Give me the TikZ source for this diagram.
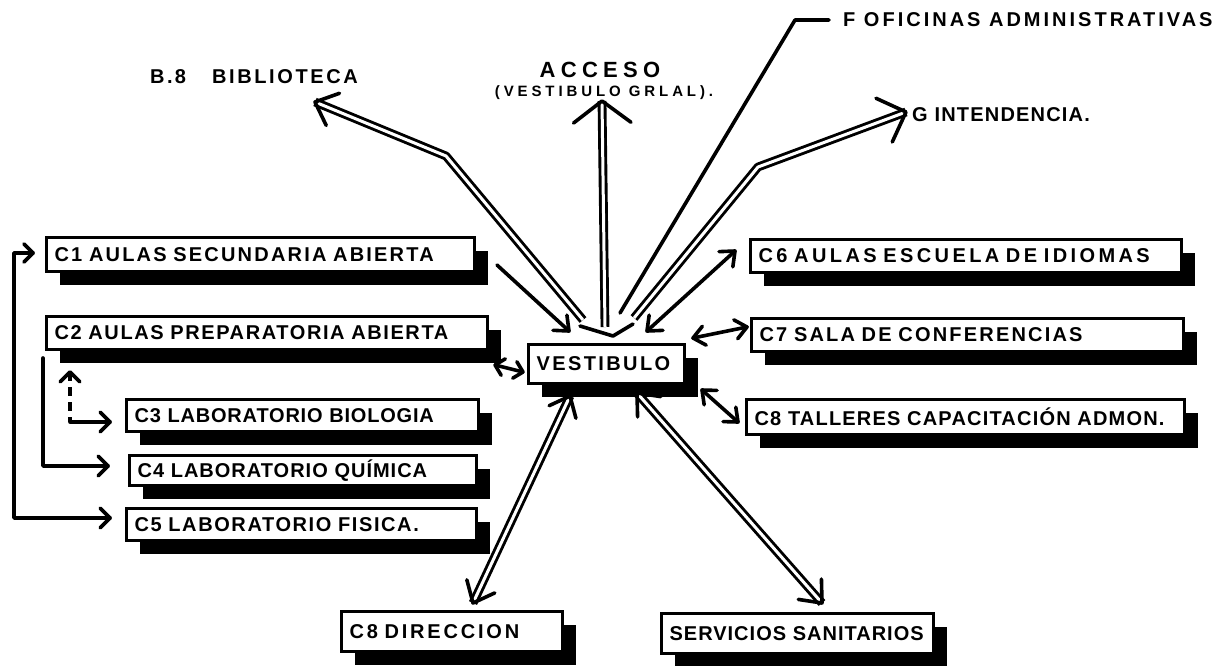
\documentclass[tikz,border=0pt]{standalone}
\usepackage{fontspec}
\setmainfont{Liberation Sans}
\usetikzlibrary{arrows.meta,shadows,calc}
\newcommand\lbl{\fontsize{20}{22}\selectfont\bfseries}
\newcommand\tx[2]{{\addfontfeature{LetterSpace=#1}#2}}
\newcommand\chev[4]{\draw[sl] ($(#1)!#3pt!#4:(#2)$) -- (#1) -- ($(#1)!#3pt!-#4:(#2)$);}
\begin{document}
\begin{tikzpicture}[x=1pt,y=-1pt,
 box/.style={draw=black, line width=3.2pt, fill=white, inner xsep=8pt, inner ysep=0pt,
   align=left, anchor=north west, font=\lbl,
   drop shadow={shadow xshift=13pt, shadow yshift=-13pt, fill=black, opacity=1}},
 lab/.style={font=\lbl, inner sep=0pt},
 sl/.style={line width=3.6pt, line cap=round, line join=round},
 dl/.style={line width=2.9pt, double=white, double distance=3pt, line join=round},
 dsh/.style={sl, line cap=butt, dash pattern=on 9pt off 6pt}
]
\fill[white] (0,0) rectangle (1220,665);
\useasboundingbox (0,0) rectangle (1220,665);

% ---------- boxes ----------
\node[box, text width=412, minimum height=34] (c1) at (45,236) {\tx{11}{C1 AULAS SECUNDARIA ABIERTA}};
\node[box, text width=425, minimum height=33] (c2) at (45,315) {\tx{8}{C2 AULAS PREPARATORIA ABIERTA}};
\node[box, text width=336, minimum height=32] (c3) at (125,398) {\tx{4}{C3 LABORATORIO BIOLOGIA}};
\node[box, text width=331, minimum height=30] (c4) at (128,454) {\tx{5}{C4 LABORATORIO QUÍMICA}};
\node[box, text width=334, minimum height=32] (c5) at (125,507) {\tx{8}{C5 LABORATORIO FISICA.}};
\node[box, text width=140, minimum height=39] (vest) at (527,343) {\tx{12}{VESTIBULO}};
\node[box, text width=415, minimum height=33] (c6) at (749,238) {\tx{17}{C6 AULAS ESCUELA DE IDIOMAS}};
\node[box, text width=416, minimum height=33] (c7) at (750,317) {\tx{11}{C7 SALA DE CONFERENCIAS}};
\node[box, text width=422, minimum height=35] (c8) at (745,398) {\tx{6}{C8 TALLERES CAPACITACIÓN ADMON.}};
\node[box, text width=205, minimum height=40] (dir) at (340,610) {\tx{14}{C8 DIRECCION}};
\node[box, text width=256, minimum height=40] (ser) at (660,612) {\tx{5}{SERVICIOS SANITARIOS}};

% ---------- top labels ----------
\node[lab, anchor=west] (bib) at (150,77) {\tx{12}{B.8}\hspace{26pt}\tx{13}{BIBLIOTECA}};
\node[lab, font=\fontsize{22}{24}\selectfont\bfseries\addfontfeature{LetterSpace=24}] (acc) at (600,70) {ACCESO};
\node[lab, font=\fontsize{15}{17}\selectfont\bfseries\addfontfeature{LetterSpace=26}] (accs) at (604,93) {(VESTIBULO GRLAL).};
\node[lab, anchor=west] (ofi) at (843,20) {\tx{15}{F OFICINAS ADMINISTRATIVAS}};
\node[lab, anchor=west] (int) at (912,115) {\tx{6}{G INTENDENCIA.}};

% ---------- coordinates ----------
\coordinate (bibS) at (583,320); \coordinate (bibK) at (446,156); \coordinate (bibT) at (315,102);
\coordinate (accS) at (605,327); \coordinate (accT) at (602,101);
\coordinate (gS) at (634,318);   \coordinate (gK) at (758,167);   \coordinate (gT) at (906,112);
\coordinate (fS) at (620,313);   \coordinate (fK) at (795,20);    \coordinate (fE) at (829,20);
\coordinate (v1) at (580,326);   \coordinate (v2) at (613,336);   \coordinate (v3) at (633,324);
\coordinate (c1a) at (497,265);  \coordinate (c1b) at (569,331);
\coordinate (c6a) at (647,331);  \coordinate (c6b) at (735,251);
\coordinate (c7a) at (693,338);  \coordinate (c7b) at (747,327);
\coordinate (c8a) at (702,390);  \coordinate (c8b) at (738,422);
\coordinate (c2a) at (495,365);  \coordinate (c2b) at (523,372);
\coordinate (dirA) at (570,396); \coordinate (dirB) at (473,603);
\coordinate (serA) at (637,393); \coordinate (serB) at (822,603);
\coordinate (L1) at (33,253);    \coordinate (L1k) at (14,253);
\coordinate (L5k) at (14,518);   \coordinate (L5) at (110,518);
\coordinate (L2s) at (43,358);   \coordinate (L4k) at (43,466);   \coordinate (L4) at (108,466);
\coordinate (L3u) at (70,372);   \coordinate (L3k) at (70,422);   \coordinate (L3) at (110,422);

% ---------- double-line arrows ----------
\draw[dl] (bibS) -- (bibK) -- (bibT);
\chev{bibT}{bibK}{26}{42}
\draw[dl] (accS) -- (accT);
\chev{accT}{accS}{36}{53}
\draw[dl] (gS) -- (gK) -- (gT);
\chev{gT}{gK}{33}{45}
\draw[dl] (dirA) -- (dirB);
\chev{dirA}{dirB}{23}{40}
\chev{dirB}{dirA}{24}{40}
\draw[dl] (serA) -- (serB);
\chev{serA}{serB}{24}{40}
\chev{serB}{serA}{24}{40}

% ---------- single lines ----------
\draw[sl] (fS) -- (fK) -- (fE);
\draw[sl] (v1) -- (v2) -- (v3);
\draw[sl] (c1a) -- (c1b); \chev{c1b}{c1a}{16}{40}
\draw[sl] (c6a) -- (c6b); \chev{c6a}{c6b}{16}{40} \chev{c6b}{c6a}{16}{40}
\draw[sl] (c7a) -- (c7b); \chev{c7a}{c7b}{15}{40} \chev{c7b}{c7a}{15}{40}
\draw[sl] (c8a) -- (c8b); \chev{c8a}{c8b}{15}{40} \chev{c8b}{c8a}{15}{40}
\draw[sl] (c2a) -- (c2b); \chev{c2a}{c2b}{12}{45} \chev{c2b}{c2a}{12}{45}

% ---------- left connectors ----------
\draw[sl] (L1) -- (L1k) -- (L5k) -- (L5);
\chev{L1}{L1k}{13}{45} \chev{L5}{L5k}{14}{45}
\draw[sl] (L2s) -- (L4k) -- (L4);
\chev{L4}{L4k}{14}{45}
\draw[dsh] (L3u) -- (L3k);
\draw[sl] (L3k) -- (L3);
\chev{L3u}{L3k}{14}{45} \chev{L3}{L3k}{14}{45}
\end{tikzpicture}
\end{document}
